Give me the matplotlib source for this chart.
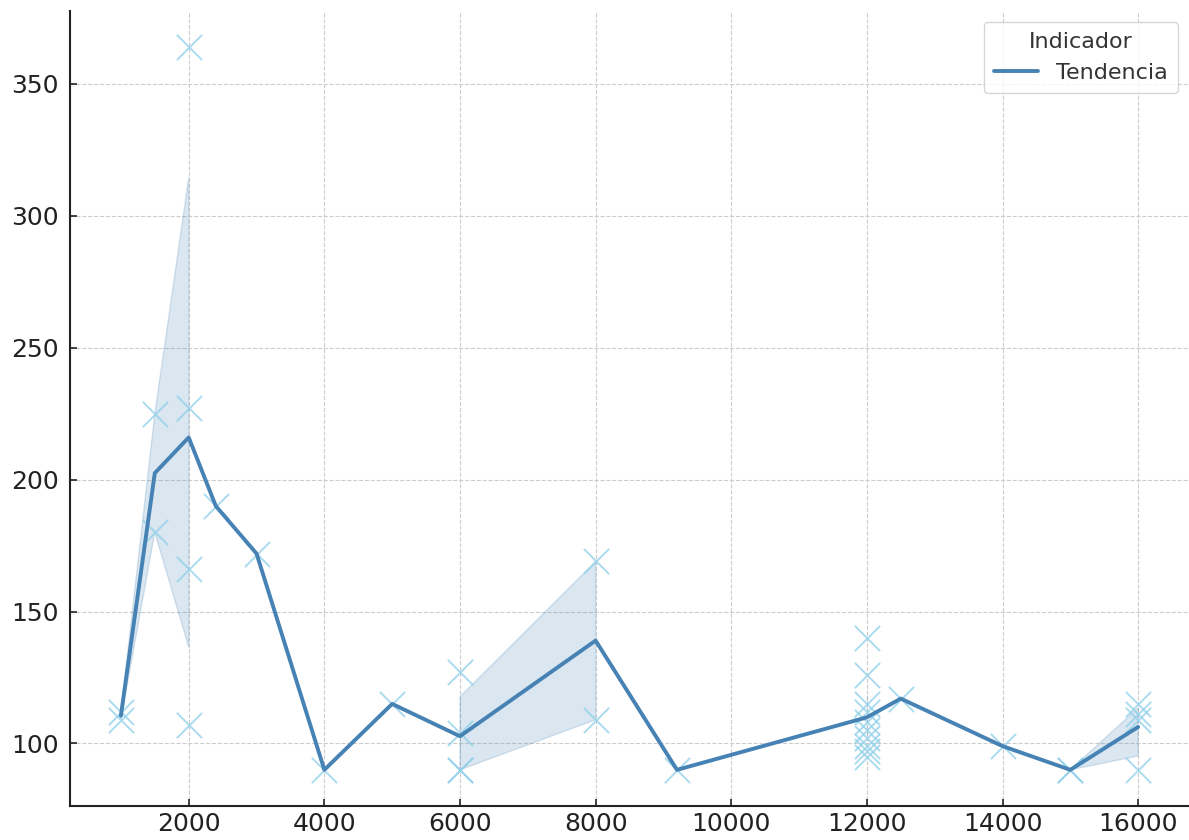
import matplotlib
matplotlib.use("Agg")
import matplotlib.pyplot as plt
import seaborn as sns
import numpy as np
import pandas as pd

x_vals = [1000, 1000,
          1500, 1500,
          2000, 2000, 2000, 2000,
          2400,
          3000,
          4000,
          5000,
          6000, 6000, 6000, 6000,
          8000, 8000,
          9200,
          12000, 12000, 12000, 12000, 12000, 12000, 12000, 12000, 12000, 12000,
          12500,
          14000,
          15000, 15000,
          16000, 16000, 16000, 16000]
y_vals = [112, 109,
          225, 180,
          364, 227, 166, 107,
          190,
          172,
          90,
          115,
          127, 104, 90, 90,
          169, 109,
          90,
          140, 126, 115, 112, 108, 105, 102, 99, 97, 95,
          117,
          99,
          90, 90,
          115, 111, 109, 90]

df = pd.DataFrame({'x': x_vals, 'y': y_vals})

sns.set_style("whitegrid", {'grid.linestyle': '--', 'grid.color': '#cccccc',
                            'axes.edgecolor': '#222222'})

fig = plt.figure(figsize=(11.89, 8.4), dpi=100)
ax = fig.add_axes([0.0589, 0.0405, 0.9411, 0.9465])

ax.scatter(df['x'], df['y'], marker='x', s=330, color='#8fd0ea', alpha=0.75,
           linewidths=1.4, zorder=2)
sns.lineplot(data=df, x='x', y='y', ax=ax, color='steelblue', linewidth=2.8,
             errorbar=('ci', 95), seed=3, label='Tendencia', zorder=3)

ax.set_xlabel('')
ax.set_ylabel('')
ax.set_yticks([100, 150, 200, 250, 300, 350])
ax.set_xticks([2000, 4000, 6000, 8000, 10000, 12000, 14000, 16000])
ax.tick_params(axis='both', labelsize=18, colors='#222222', length=5, width=1.2,
               direction='in', pad=4, bottom=True, left=True)
ax.tick_params(axis='y', pad=8)
for lbl in ax.get_xticklabels() + ax.get_yticklabels():
    lbl.set_color('#222222')
sns.despine(ax=ax)
ax.spines['left'].set_linewidth(1.5)
ax.spines['bottom'].set_linewidth(1.5)

leg = ax.legend(title='Indicador', fontsize=16, title_fontsize=16, loc='upper right',
                frameon=True, fancybox=True, borderpad=0.45)
leg.get_title().set_color('#333333')
for t in leg.get_texts():
    t.set_color('#333333')

fig.savefig('out.png', dpi=100)
